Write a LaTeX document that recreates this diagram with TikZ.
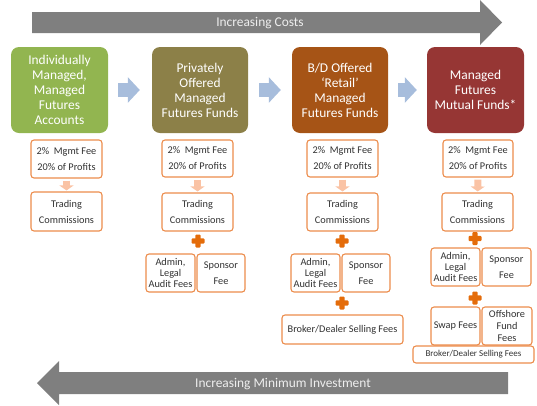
\documentclass[tikz,border=0pt]{standalone}
\usepackage{fontspec}
\setmainfont{Carlito}
\usetikzlibrary{positioning}
\usetikzlibrary{arrows.meta}
\definecolor{accgreen}{RGB}{146,181,80}
\definecolor{olivefund}{RGB}{140,128,72}
\definecolor{retailbrown}{RGB}{166,84,22}
\definecolor{mutualred}{RGB}{150,54,52}
\definecolor{stepblue}{RGB}{167,189,220}
\definecolor{feeorange}{RGB}{236,140,76}
\definecolor{lightorange}{RGB}{250,195,165}
\definecolor{plusorange}{RGB}{228,108,10}
\definecolor{costgray}{RGB}{127,127,127}
\definecolor{feetext}{RGB}{50,50,50}

\begin{document}
\begin{tikzpicture}[x=1pt,y=-1pt]
		\tikzset{bigbox/.style = {shape=rectangle,rounded corners=8pt,minimum width=97pt,minimum height=86pt,inner sep=2pt,text=white,align=center,font=\fontsize{13.4}{15}\selectfont}}
		\tikzset{feebox/.style = {shape=rectangle,rounded corners=3pt,draw=feeorange,line width=1.1pt,fill=white,text=feetext,align=center,inner sep=0pt,font=\fontsize{10.3}{16}\selectfont}}
		\tikzset{nextarrow/.style = {-{Triangle[length=12pt,width=25pt]},line width=14pt,draw=stepblue}}
		\tikzset{downarrow/.style = {-{Triangle[length=5pt,width=14pt]},line width=7pt,draw=lightorange}}
		\tikzset{plussign/.style = {shape=rectangle,minimum size=13pt,inner sep=0pt,path picture={
			\fill[plusorange,rounded corners=1pt] ([xshift=-2.6pt,yshift=-6.5pt]path picture bounding box.center) rectangle ([xshift=2.6pt,yshift=6.5pt]path picture bounding box.center);
			\fill[plusorange,rounded corners=1pt] ([xshift=-6.5pt,yshift=-2.6pt]path picture bounding box.center) rectangle ([xshift=6.5pt,yshift=2.6pt]path picture bounding box.center);}}}
		\useasboundingbox (0,0) rectangle (537,405);
		
		% big arrows
		\fill[costgray] (32,12) -- (480,12) -- (480,0) -- (502,22.5) -- (480,45) -- (480,33) -- (32,33) -- cycle;
		\node[text={rgb,255:red,238;green,238;blue,238},font=\fontsize{13.4}{15}\selectfont] (costs) at (260,23) {Increasing Costs};
		\fill[costgray] (508,372) -- (59,372) -- (59,361) -- (37,383) -- (59,405) -- (59,394) -- (508,394) -- cycle;
		\node[text={rgb,255:red,238;green,238;blue,238},font=\fontsize{13.4}{15}\selectfont] (mininv) at (283,384) {Increasing Minimum Investment};
		
		% products
		\node[bigbox,fill=accgreen] (b1) at (59.5,90) {Individually\\Managed,\\Managed\\Futures\\Accounts};
		\node[bigbox,fill=olivefund,minimum width=96pt] (b2) at (200,90) {Privately\\Offered\\Managed\\Futures Funds};
		\node[bigbox,fill=retailbrown,minimum width=96pt] (b3) at (340,90) {B/D Offered\\‘Retail’\\Managed\\Futures Funds};
		\node[bigbox,fill=mutualred] (b4) at (475.5,90) {Managed\\Futures\\Mutual Funds*};
		
		% fees
		\node[feebox,minimum width=71pt,minimum height=38pt] (f1) at (66.5,159) {2\%\ \ Mgmt Fee\\20\% of Profits};
		\node[feebox,minimum width=71pt,minimum height=37pt] (f2) at (197.5,158.5) {2\%\ \ Mgmt Fee\\20\% of Profits};
		\node[feebox,minimum width=71pt,minimum height=37pt] (f3) at (342.5,158.5) {2\%\ \ Mgmt Fee\\20\% of Profits};
		\node[feebox,minimum width=70pt,minimum height=37pt] (f4) at (478,158.5) {2\%\ \ Mgmt Fee\\20\% of Profits};
		
		\node[feebox,minimum width=71pt,minimum height=39pt] (t1) at (66.5,211.5) {Trading\\Commissions};
		\node[feebox,minimum width=71pt,minimum height=38pt] (t2) at (197.5,212) {Trading\\Commissions};
		\node[feebox,minimum width=71pt,minimum height=38pt] (t3) at (342.5,212) {Trading\\Commissions};
		\node[feebox,minimum width=71pt,minimum height=38pt] (t4) at (477.5,212) {Trading\\Commissions};
		
		\node[feebox,minimum width=49pt,minimum height=38pt,font=\fontsize{10.3}{11.3}\selectfont] (a2) at (170.5,273) {Admin,\\Legal\\Audit Fees};
		\node[feebox,minimum width=48pt,minimum height=38pt] (s2) at (221,273) {Sponsor\\Fee};
		\node[feebox,minimum width=49pt,minimum height=38pt,font=\fontsize{10.3}{11.3}\selectfont] (a3) at (315.5,273) {Admin,\\Legal\\Audit Fees};
		\node[feebox,minimum width=48pt,minimum height=38pt] (s3) at (366,273) {Sponsor\\Fee};
		\node[feebox,minimum width=49pt,minimum height=38pt,font=\fontsize{10.3}{11.3}\selectfont] (a4) at (455.5,267) {Admin,\\Legal\\Audit Fees};
		\node[feebox,minimum width=49pt,minimum height=38pt] (s4) at (506.5,267) {Sponsor\\Fee};
		
		\node[feebox,minimum width=121pt,minimum height=29pt] (r3) at (342.5,329.5) {Broker/Dealer Selling Fees};
		\node[feebox,minimum width=49pt,minimum height=38pt] (w4) at (455.5,326) {Swap Fees};
		\node[feebox,minimum width=50pt,minimum height=38pt,font=\fontsize{10.3}{12}\selectfont] (o4) at (507,326) {Offshore\\Fund\\Fees};
		\node[feebox,minimum width=121pt,minimum height=17pt,font=\fontsize{9}{10}\selectfont] (r4) at (473.5,354.5) {Broker/Dealer Selling Fees};
		
		% plus signs
		\node[plussign] (p2) at (198,241) {};
		\node[plussign] (p3) at (342,241) {};
		\node[plussign] (q3) at (342,303) {};
		\node[plussign] (p4) at (475,238.5) {};
		\node[plussign] (q4) at (475,298) {};
		
		%arrows
		\draw[nextarrow,shorten <=10pt,shorten >=12pt] (b1) -- (b2);
		\draw[nextarrow,shorten <=11pt,shorten >=11pt] (b2) -- (b3);
		\draw[nextarrow,shorten <=10pt,shorten >=10pt] (b3) -- (b4);
		
		\draw[downarrow,shorten <=2pt,shorten >=1pt] (f1) -- (t1);
		\draw[downarrow,shorten <=2pt,shorten >=1pt] (f2) -- (t2);
		\draw[downarrow,shorten <=2pt,shorten >=1pt] (f3) -- (t3);
		\draw[downarrow,shorten <=2pt,shorten >=1pt] (f4) -- (t4);
\end{tikzpicture}
\end{document}
